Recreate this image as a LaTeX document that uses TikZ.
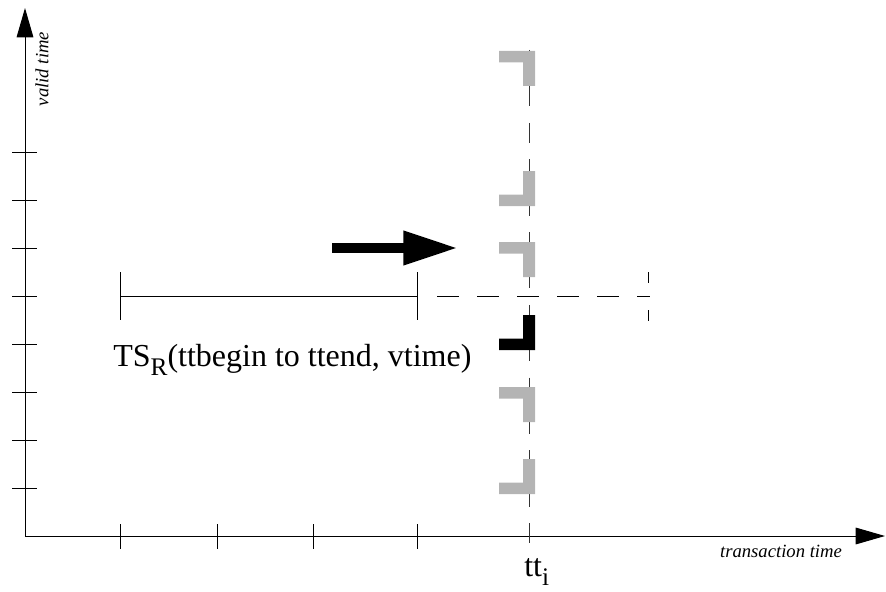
\documentclass[tikz,border=0pt]{standalone}
\usepackage{fontspec}
\setmainfont{Liberation Serif}
\usetikzlibrary{positioning,arrows.meta}
\definecolor{MarkGray}{RGB}{180,180,180}
\newcommand\lowsub[1]{\raisebox{-0.3em}{\fontsize{19}{20}\selectfont #1}}

\begin{document}
\begin{tikzpicture}[
    x=0.75pt, y=-0.75pt,
    axis/.style={line width=0.75pt, -{Triangle[length=22pt, width=12.5pt]}},
    tick/.style={line width=0.75pt},
    interval/.style={line width=0.75pt},
    extension/.style={line width=0.75pt, dash pattern=on 16.5pt off 13.5pt},
    endmark/.style={line width=0.75pt, dash pattern=on 8.25pt off 20.25pt},
    nowline/.style={line width=0.75pt, black!80, dash pattern=on 15pt off 12.3pt},
    marker/.style={fill=MarkGray},
    current/.style={fill=black},
    bigarrow/.style={line width=7.5pt, -{Triangle[length=41pt, width=24pt]}},
    axislabel/.style={font=\fontsize{14}{16}\selectfont\itshape, inner sep=0pt},
    biglabel/.style={font=\fontsize{24}{28}\selectfont, inner sep=0pt},
]
\useasboundingbox (0,0) rectangle (886,592);

% axes
\coordinate (O) at (25,536);
\coordinate (ytip) at (25,8);
\coordinate (xtip) at (885,536);
\draw[axis] (O) -- (ytip);
\draw[axis] (O) -- (xtip);
\foreach \y in {152,200,248,296,344,392,440,488}
    \draw[tick] (12,\y) -- (37,\y);
\foreach \x in {120,217,313,417}
    \draw[tick] (\x,524) -- (\x,549);

\node[axislabel, rotate=90] (vlabel) at (42,69) {valid time};
\node[axislabel] (tlabel) at (781,551) {transaction time};

% the time slice
\coordinate (ttbegin) at (120,296);
\coordinate (ttend) at (417,296);
\coordinate (ttnext) at (437,296);
\coordinate (ttmax) at (650,296);
\draw[interval] (ttbegin) -- (ttend);
\draw[tick] (120,272) -- (120,320);
\draw[tick] (417,272) -- (417,320);
\draw[extension] (ttnext) -- (ttmax);
\draw[endmark] (648,272) -- (648,322);
\node[biglabel, anchor=base west] (tslabel) at (113,366) {TS\lowsub{R}(ttbegin to ttend, vtime)};

% current transaction time
\coordinate (ttitop) at (529,50);
\coordinate (ttibot) at (529,550);
\draw[nowline] (ttitop) -- (ttibot);
\node[biglabel, anchor=base west] (ttlabel) at (524,576) {tt\lowsub{i}};

% corners of the valid time periods
\foreach \t in {51,242,387}
    \fill[marker] (499,\t) -| (535,\t+35) -- (523,\t+35) |- (499,\t+11.5) -- cycle;
\foreach \b in {206,494}
    \fill[marker] (535,\b-35) |- (499,\b) -- (499,\b-11.5) -| (523,\b-35) -- cycle;
\fill[current] (535,315) |- (499,350) -- (499,338.5) -| (523,315) -- cycle;

\coordinate (pushfrom) at (332,248);
\coordinate (pushto) at (458,248);
\draw[bigarrow] (pushfrom) -- (pushto);
\end{tikzpicture}
\end{document}
